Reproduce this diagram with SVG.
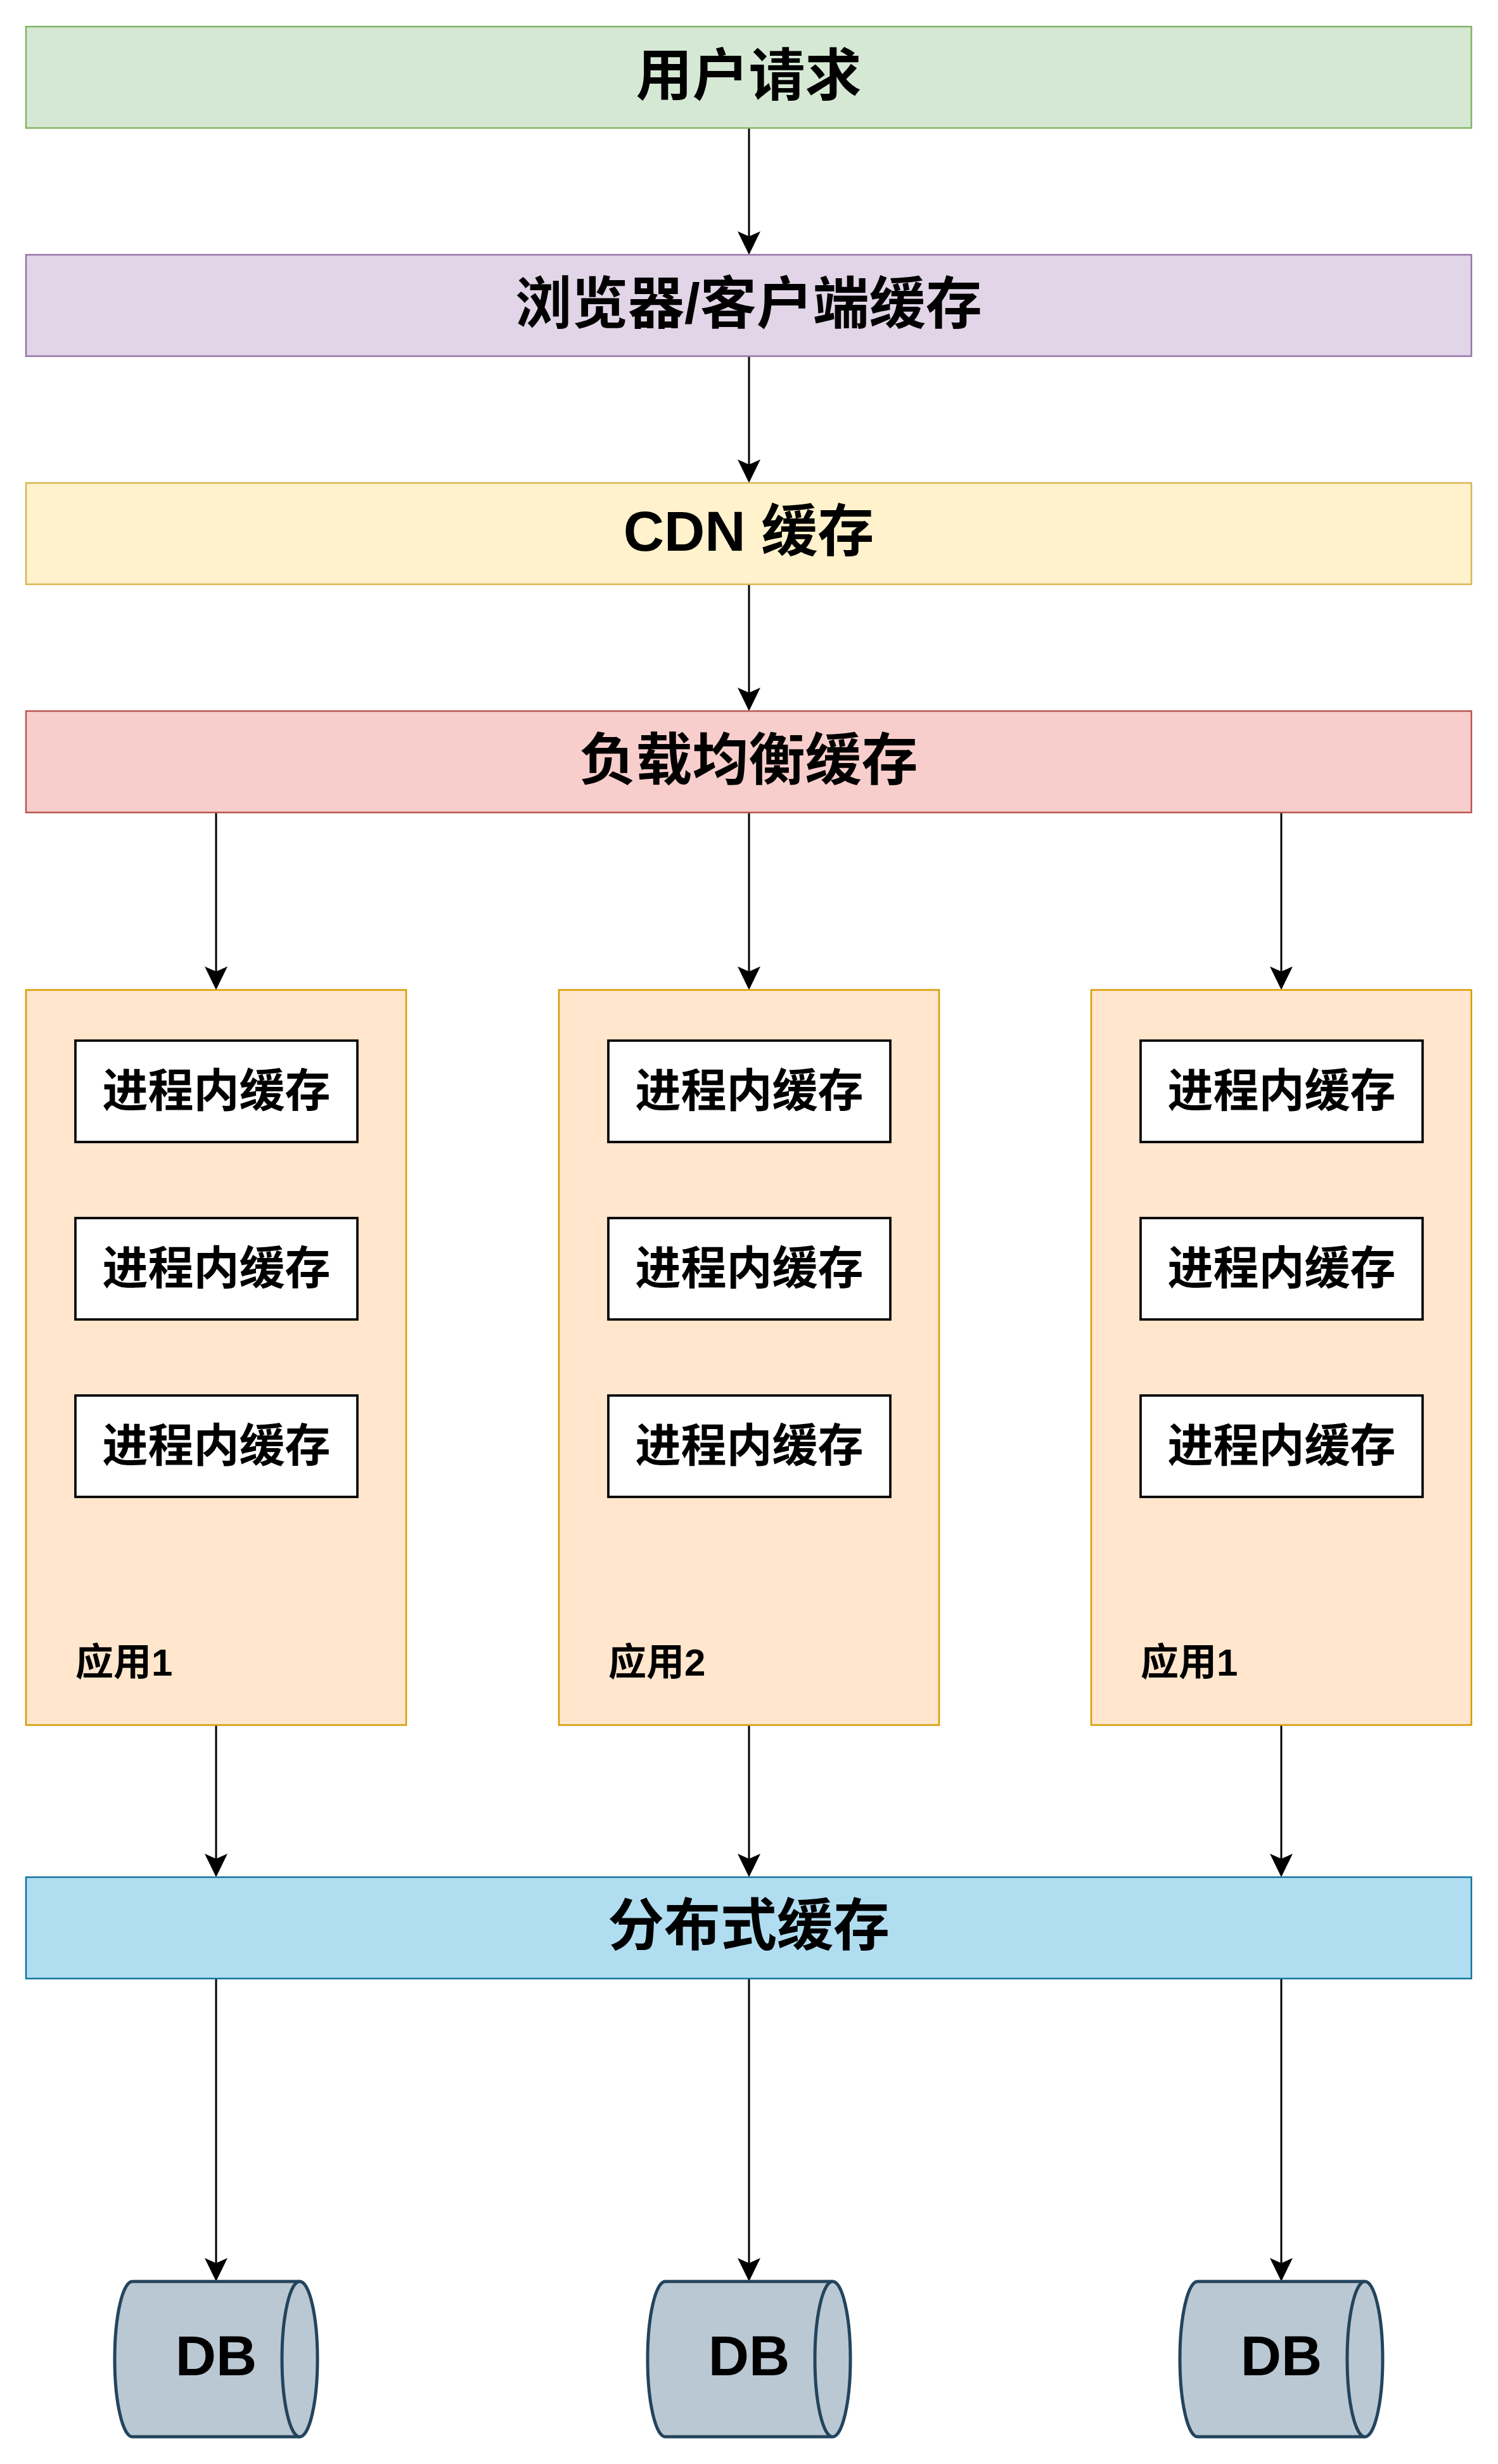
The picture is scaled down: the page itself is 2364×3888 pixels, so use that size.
<svg xmlns="http://www.w3.org/2000/svg" width="2364" height="3888" viewBox="0 0 2364 3888">
<style>
.t{font-family:"Liberation Sans","Noto Sans CJK SC",sans-serif;font-weight:bold;fill:#000}
.big{font-size:89px;text-anchor:middle}
.in{font-size:72px;text-anchor:middle}
.lbl{font-size:60px}
.db{font-size:89px;text-anchor:middle}
.bx{stroke-width:2.5}
.inner{fill:#ffffff;stroke:#000000;stroke-width:3.7}
.app{fill:#ffe6cc;stroke:#d79b00;stroke-width:2.5}
.cyl{fill:#bac8d3;stroke:#23445d;stroke-width:5}
.c{stroke:#000;stroke-width:3;fill:none;marker-end:url(#ah)}
</style>
<defs>
<marker id="ah" markerUnits="userSpaceOnUse" viewBox="-38 -20 40 40" refX="-29" refY="0" markerWidth="40" markerHeight="40" orient="auto">
<path d="M0,0 L-37,-18 L-29,0 L-37,18 Z" fill="#000"/>
</marker>
</defs>
<rect width="2364" height="3888" fill="#ffffff"/>

<g id="connectors">
<line class="c" x1="1182" y1="202" x2="1182" y2="373"/>
<line class="c" x1="1182" y1="562" x2="1182" y2="733"/>
<line class="c" x1="1182" y1="922" x2="1182" y2="1093"/>
<line class="c" x1="341" y1="1282" x2="341" y2="1533"/>
<line class="c" x1="1182" y1="1282" x2="1182" y2="1533"/>
<line class="c" x1="2022" y1="1282" x2="2022" y2="1533"/>
<line class="c" x1="341" y1="2722" x2="341" y2="2933"/>
<line class="c" x1="1182" y1="2722" x2="1182" y2="2933"/>
<line class="c" x1="2022" y1="2722" x2="2022" y2="2933"/>
<line class="c" x1="341" y1="3122" x2="341" y2="3571"/>
<line class="c" x1="1182" y1="3122" x2="1182" y2="3571"/>
<line class="c" x1="2022" y1="3122" x2="2022" y2="3571"/>
</g>

<g id="user-request">
<rect class="bx" x="41" y="42" width="2281" height="160" fill="#d5e8d4" stroke="#82b366"/>
<text class="t big" x="1181.5" y="150">用户请求</text>
</g>
<g id="browser-cache">
<rect class="bx" x="41" y="402" width="2281" height="160" fill="#e1d5e7" stroke="#9673a6"/>
<text class="t big" x="1181.5" y="510">浏览器/客户端缓存</text>
</g>
<g id="cdn-cache">
<rect class="bx" x="41" y="762" width="2281" height="160" fill="#fff2cc" stroke="#d6b656"/>
<text class="t big" x="1181.5" y="869">CDN 缓存</text>
</g>
<g id="lb-cache">
<rect class="bx" x="41" y="1122" width="2281" height="160" fill="#f8cecc" stroke="#b85450"/>
<text class="t big" x="1181.5" y="1230">负载均衡缓存</text>
</g>

<g id="app1">
<rect class="app" x="41" y="1562" width="600" height="1160"/>
<text class="t lbl" x="119" y="2644">应用1</text>
</g>
<g id="app1-cache1"><rect class="inner" x="119" y="1642" width="445" height="160"/><text class="t in" x="341.5" y="1746">进程内缓存</text></g>
<g id="app1-cache2"><rect class="inner" x="119" y="1922" width="445" height="160"/><text class="t in" x="341.5" y="2026">进程内缓存</text></g>
<g id="app1-cache3"><rect class="inner" x="119" y="2202" width="445" height="160"/><text class="t in" x="341.5" y="2306">进程内缓存</text></g>

<g id="app2">
<rect class="app" x="882" y="1562" width="600" height="1160"/>
<text class="t lbl" x="960" y="2644">应用2</text>
</g>
<g id="app2-cache1"><rect class="inner" x="960" y="1642" width="445" height="160"/><text class="t in" x="1182.5" y="1746">进程内缓存</text></g>
<g id="app2-cache2"><rect class="inner" x="960" y="1922" width="445" height="160"/><text class="t in" x="1182.5" y="2026">进程内缓存</text></g>
<g id="app2-cache3"><rect class="inner" x="960" y="2202" width="445" height="160"/><text class="t in" x="1182.5" y="2306">进程内缓存</text></g>

<g id="app3">
<rect class="app" x="1722" y="1562" width="600" height="1160"/>
<text class="t lbl" x="1800" y="2644">应用1</text>
</g>
<g id="app3-cache1"><rect class="inner" x="1800" y="1642" width="445" height="160"/><text class="t in" x="2022.5" y="1746">进程内缓存</text></g>
<g id="app3-cache2"><rect class="inner" x="1800" y="1922" width="445" height="160"/><text class="t in" x="2022.5" y="2026">进程内缓存</text></g>
<g id="app3-cache3"><rect class="inner" x="1800" y="2202" width="445" height="160"/><text class="t in" x="2022.5" y="2306">进程内缓存</text></g>

<g id="distributed-cache">
<rect class="bx" x="41" y="2962" width="2281" height="160" fill="#b1ddf0" stroke="#10739e"/>
<text class="t big" x="1181.5" y="3069">分布式缓存</text>
</g>

<g id="db1">
<path class="cyl" d="M209,3600 H473 A28,122.5 0 0 1 473,3845 H209 A28,122.5 0 0 1 209,3600 Z"/>
<path class="cyl" fill="none" d="M473,3600 A28,122.5 0 0 0 473,3845"/>
<text class="t db" x="341" y="3748">DB</text>
</g>
<g id="db2">
<path class="cyl" d="M1050,3600 H1314 A28,122.5 0 0 1 1314,3845 H1050 A28,122.5 0 0 1 1050,3600 Z"/>
<path class="cyl" fill="none" d="M1314,3600 A28,122.5 0 0 0 1314,3845"/>
<text class="t db" x="1182" y="3748">DB</text>
</g>
<g id="db3">
<path class="cyl" d="M1890,3600 H2154 A28,122.5 0 0 1 2154,3845 H1890 A28,122.5 0 0 1 1890,3600 Z"/>
<path class="cyl" fill="none" d="M2154,3600 A28,122.5 0 0 0 2154,3845"/>
<text class="t db" x="2022" y="3748">DB</text>
</g>
</svg>
